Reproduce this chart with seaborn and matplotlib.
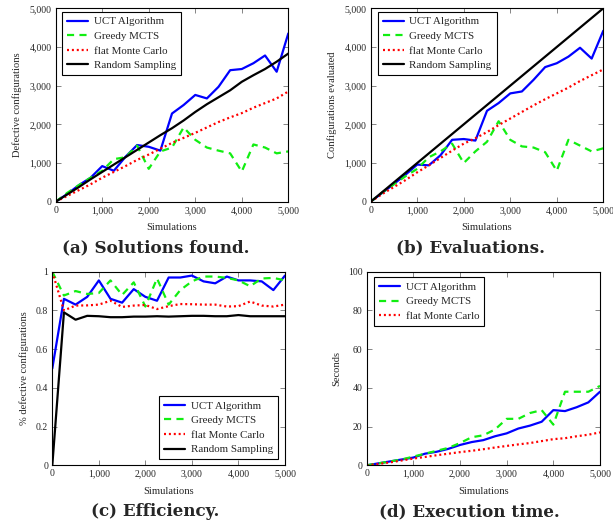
import numpy as np
import pandas as pd
import matplotlib
matplotlib.use('Agg')
import matplotlib.pyplot as plt
import seaborn as sns
from matplotlib.ticker import FuncFormatter, MultipleLocator

# simulations (sampled every 250)
sims = [0, 250, 500, 750, 1000, 1250, 1500, 1750, 2000, 2250, 2500,
        2750, 3000, 3250, 3500, 3750, 4000, 4250, 4500, 4750, 5000]

# (a) solutions found
sol_uct = [0, 200, 430, 620, 920, 800, 1160, 1465, 1420, 1320, 2280,
           2500, 2760, 2670, 2970, 3400, 3430, 3580, 3780, 3360, 4350]
sol_greedy = [0, 230, 430, 620, 800, 1100, 1150, 1450, 850, 1300, 1400,
              1920, 1600, 1400, 1320, 1250, 780, 1480, 1400, 1250, 1300]
sol_flat = [0, 150, 300, 450, 620, 770, 920, 1080, 1220, 1370, 1520,
            1650, 1780, 1920, 2060, 2180, 2290, 2430, 2550, 2670, 2850]
sol_random = [0, 190, 380, 580, 770, 960, 1150, 1340, 1530, 1720, 1900,
              2100, 2320, 2520, 2700, 2880, 3100, 3270, 3430, 3620, 3830]

# (b) evaluations
ev_uct = [0, 230, 460, 700, 960, 940, 1200, 1600, 1620, 1580, 2350,
          2550, 2800, 2850, 3150, 3480, 3580, 3750, 3980, 3700, 4420]
ev_greedy = [0, 240, 450, 660, 850, 1150, 1300, 1500, 1000, 1300, 1550,
             2080, 1600, 1430, 1400, 1280, 800, 1600, 1450, 1300, 1380]
ev_flat = [0, 200, 380, 560, 760, 940, 1130, 1320, 1500, 1640, 1800,
           1980, 2150, 2320, 2490, 2650, 2800, 2950, 3120, 3270, 3420]
ev_random = [0, 250, 500, 750, 1000, 1250, 1500, 1750, 2000, 2250, 2500,
             2750, 3000, 3250, 3500, 3750, 4000, 4250, 4500, 4750, 5000]

# (c) efficiency
eff_uct = [0.5, 0.86, 0.83, 0.87, 0.955, 0.86, 0.84, 0.91, 0.87, 0.85, 0.97,
           0.97, 0.98, 0.95, 0.94, 0.975, 0.955, 0.955, 0.95, 0.905, 0.98]
eff_greedy = [1.0, 0.877, 0.9, 0.885, 0.89, 0.955, 0.88, 0.945, 0.82, 0.965, 0.83,
              0.905, 0.95, 0.975, 0.975, 0.968, 0.955, 0.925, 0.965, 0.968, 0.955]
eff_flat = [1.0, 0.8, 0.825, 0.826, 0.83, 0.85, 0.818, 0.825, 0.828, 0.807, 0.822,
            0.833, 0.832, 0.83, 0.83, 0.82, 0.822, 0.846, 0.825, 0.82, 0.83]
eff_random = [0.0, 0.79, 0.752, 0.772, 0.77, 0.765, 0.765, 0.768, 0.768, 0.77, 0.768,
              0.77, 0.772, 0.772, 0.77, 0.77, 0.776, 0.77, 0.77, 0.77, 0.77]

# (d) execution time (seconds)
t_uct = [0, 1, 2, 3, 4, 6, 7, 8.5, 10.5, 12, 13,
         15, 16.5, 19, 20.5, 22.5, 28.5, 28, 30, 32.5, 38]
t_greedy = [0, 1, 2, 3, 4.5, 6, 7.5, 9, 11.5, 14.5, 15.5,
            18.5, 24, 24, 27, 28.5, 21, 38, 38, 38, 41]
t_flat = [0, 0.7, 1.5, 2.5, 3.5, 4.3, 5.2, 6, 6.8, 7.5, 8.3,
          9.2, 10, 10.8, 11.5, 12.5, 13.5, 14, 15, 15.8, 17]

labels = ['UCT Algorithm', 'Greedy MCTS', 'flat Monte Carlo', 'Random Sampling']
colors = ['#0000ff', '#11ee11', '#ff0000', '#000000']
styles = ['-', (0, (3.2, 2.4)), (0, (0.9, 1.3)), '-']

sns.set_style('ticks')
plt.rcParams['font.family'] = ['Liberation Serif', 'DejaVu Serif']

fig = plt.figure(figsize=(6.13, 5.24), dpi=100)
W, H = 613, 524


def add_ax(l, t, r, b):
    return fig.add_axes([l / W, 1 - b / H, (r - l) / W, (b - t) / H])


comma = FuncFormatter(lambda v, p: f'{int(v):,}')


def panel(ax, series, ylim, ystep, ylabel, yfmt, legloc, bbox):
    for i, ys in enumerate(series):
        df = pd.DataFrame({'x': sims, 'y': ys})
        sns.lineplot(data=df, x='x', y='y', ax=ax, color=colors[i],
                     linestyle=styles[i], linewidth=1.6, label=labels[i])
    ax.set_xlim(0, 5000)
    ax.set_ylim(*ylim)
    ax.xaxis.set_major_locator(MultipleLocator(1000))
    ax.yaxis.set_major_locator(MultipleLocator(ystep))
    ax.xaxis.set_major_formatter(comma)
    ax.yaxis.set_major_formatter(yfmt)
    ax.tick_params(direction='in', length=3.5, width=0.5, labelsize=7,
                   top=True, right=True, pad=3, color='#555555')
    for s in ax.spines.values():
        s.set_linewidth(0.8)
        s.set_color('black')
    ax.set_xlabel('Simulations', fontsize=7.6, labelpad=6)
    ax.set_ylabel(ylabel, fontsize=7.6, labelpad=5)
    leg = ax.legend(loc=legloc, bbox_to_anchor=bbox, fontsize=7.9,
                    frameon=True, fancybox=False, edgecolor='black',
                    framealpha=1, borderpad=0.45, labelspacing=0.45,
                    handlelength=1.95, handletextpad=0.5, borderaxespad=0)
    leg.get_frame().set_linewidth(0.8)


ax_a = add_ax(55.7, 8.3, 288.3, 201.7)
panel(ax_a, [sol_uct, sol_greedy, sol_flat, sol_random], (0, 5000), 1000,
      'Defective configurations', comma, 'upper left', (0.027, 0.982))

ax_b = add_ax(370.7, 8.3, 603.3, 201.7)
panel(ax_b, [ev_uct, ev_greedy, ev_flat, ev_random], (0, 5000), 1000,
      'Configurations evaluated', comma, 'upper left', (0.03, 0.982))

frac = FuncFormatter(lambda v, p: f'{v:g}')
ax_c = add_ax(52.3, 271.7, 285.0, 465.3)
panel(ax_c, [eff_uct, eff_greedy, eff_flat, eff_random], (0, 1), 0.2,
      '% defective configurations', frac, 'lower right', (0.97, 0.031))

ax_d = add_ax(366.7, 271.7, 600.0, 465.3)
panel(ax_d, [t_uct, t_greedy, t_flat], (0, 100), 20,
      'Seconds', comma, 'upper left', (0.031, 0.972))

caps = ['(a) Solutions found.', '(b) Evaluations.', '(c) Efficiency.', '(d) Execution time.']
cap_pos = [(156, 248), (471, 248), (155, 512), (469, 512)]
for cap, (cx, cy) in zip(caps, cap_pos):
    fig.text(cx / W, 1 - cy / H, cap, ha='center', va='center',
             fontsize=12.1, fontweight='bold', family='DejaVu Serif')

fig.savefig('out.png', dpi=100)
